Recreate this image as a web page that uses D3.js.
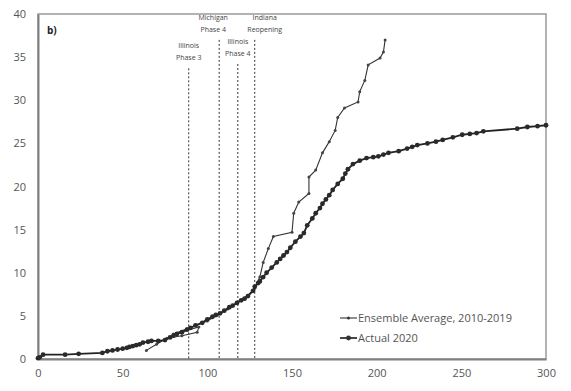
<!DOCTYPE html>
<html>
<head>
<meta charset="utf-8">
<script src="https://cdn.jsdelivr.net/npm/d3@7"></script>
<style>
  body { margin: 0; background: #fff; }
  svg text { font-family: "Open Sans", "Liberation Sans", sans-serif; }
</style>
</head>
<body>
<div id="chart"></div>
<script>
// --- Data ---
const xTicks = [0, 50, 100, 150, 200, 250, 300];
const yTicks = [0, 5, 10, 15, 20, 25, 30, 35, 40];

// Ensemble Average, 2010-2019 : [x, y]
const ensemble = [
  [64, 1.0], [70, 1.7], [76, 2.4], [85, 2.7], [94, 3.1], [95, 3.7], [80, 2.9], [88, 3.5],
  [100, 4.4], [106, 5.1], [112, 5.8], [118, 6.6], [124, 7.4], [128, 8.2], [131, 9.5],
  [133, 11.2], [136, 12.8], [139, 14.2], [150, 14.7], [151, 16.9], [154, 18.2],
  [160, 19.2], [160, 21.1], [164, 21.9], [168, 23.9], [172, 25.2], [175.5, 26.5],
  [177, 28.0], [181, 29.1], [189, 29.8], [190, 31.0], [193, 32.3], [195, 34.1],
  [202, 34.9], [204, 35.6], [205, 37.0]
];

// Actual 2020 : [x, y]
const actual = [
  [0, 0.1], [1, 0.2], [3, 0.5], [16, 0.5], [24, 0.6], [38, 0.7], [41, 0.9], [44, 1.0],
  [47, 1.1], [50, 1.2], [52.5, 1.3], [54, 1.4], [56, 1.5], [58, 1.6], [60, 1.7], [62, 1.9],
  [65, 2.0], [67, 2.1], [71, 2.1], [75, 2.2], [78, 2.5], [80, 2.7], [82, 2.9], [85, 3.1],
  [88, 3.4], [90, 3.6], [93, 3.9], [97, 4.2], [100, 4.6], [103, 4.9], [105, 5.1], [107.5, 5.3],
  [110, 5.6], [113, 6.0], [115, 6.2], [117.5, 6.5], [120, 6.8], [122, 7.0], [124, 7.3],
  [127, 7.9], [128, 8.4], [130, 8.8], [131, 9.0], [133, 9.5], [135, 10.0], [138, 10.6],
  [141, 11.2], [143, 11.6], [145, 12.0], [147, 12.4], [149, 12.9], [152, 13.6], [155, 14.2],
  [157, 14.6], [159, 15.5], [162, 16.3], [164, 16.9], [166.5, 17.5], [168, 18.0], [170, 18.5],
  [172, 19.0], [174, 19.6], [177, 20.3], [180, 20.9], [181.5, 21.5], [183, 22.0], [186, 22.6],
  [190, 23.0], [194, 23.3], [198, 23.4], [201, 23.5], [204, 23.7], [207, 23.9], [213, 24.1],
  [218, 24.4], [221, 24.6], [224, 24.8], [230, 25.0], [235, 25.2], [239, 25.4], [245, 25.7],
  [250.5, 26.0], [255, 26.1], [259, 26.2], [263, 26.4], [283, 26.7], [289, 26.9],
  [295, 27.0], [300, 27.1]
];

// Event markers
const events = [
  { x: 89,  top: 33.7, lines: ["Illinois", "Phase 3"] },
  { x: 107, top: 37.0, lines: ["Michigan", "Phase 4"] },
  { x: 118, top: 34.2, lines: ["Illinois", "Phase 4"] },
  { x: 128, top: 37.0, lines: ["Indiana", "Reopening"] }
];

const seriesNames = ["Ensemble Average, 2010-2019", "Actual 2020"];

// --- Layout ---
const W = 571, H = 391;
const margin = { left: 38, right: 25, top: 14, bottom: 32 };

const svg = d3.select("#chart").append("svg")
  .attr("width", W).attr("height", H);

const x = d3.scaleLinear().domain([0, 300]).range([margin.left, W - margin.right]);
const y = d3.scaleLinear().domain([0, 40]).range([H - margin.bottom, margin.top]);

// frame
svg.append("rect")
  .attr("x", x(0)).attr("y", y(40))
  .attr("width", x(300) - x(0)).attr("height", y(0) - y(40))
  .attr("fill", "none").attr("stroke", "#9a9a9a").attr("stroke-width", 1.5);

// axes (labels only, no tick marks)
const xAxis = svg.append("g")
  .attr("transform", `translate(0,${y(0)})`)
  .call(d3.axisBottom(x).tickValues(xTicks).tickSize(0).tickPadding(10));
const yAxis = svg.append("g")
  .attr("transform", `translate(${x(0)},0)`)
  .call(d3.axisLeft(y).tickValues(yTicks).tickSize(0).tickPadding(12));
[xAxis, yAxis].forEach(g => {
  g.select(".domain").attr("stroke", "#808080").attr("stroke-width", 2);
  g.selectAll("text").attr("fill", "#555").style("font-size", "11px");
});

// event lines
events.forEach(ev => {
  svg.append("line")
    .attr("x1", x(ev.x)).attr("x2", x(ev.x))
    .attr("y1", y(ev.top)).attr("y2", y(0))
    .attr("stroke", "#333").attr("stroke-width", 1)
    .attr("stroke-dasharray", "2,2");
  const t = svg.append("text")
    .attr("x", x(ev.x) - (ev.x === 107 ? 6 : ev.x === 128 ? -10 : 0))
    .attr("y", y(ev.top) - 20)
    .attr("text-anchor", "middle")
    .attr("fill", "#444")
    .style("font-size", "7px");
  ev.lines.forEach((s, i) => {
    t.append("tspan").attr("x", t.attr("x")).attr("dy", i ? 12 : 0).text(s);
  });
});

svg.append("text")
  .attr("x", 47).attr("y", 34)
  .attr("fill", "#222").style("font-size", "10px").style("font-weight", "bold")
  .text("b)");

const line = d3.line().x(d => x(d[0])).y(d => y(d[1]));

// ensemble
svg.append("path").datum(ensemble)
  .attr("d", line).attr("fill", "none")
  .attr("stroke", "#333").attr("stroke-width", 1.1);
svg.selectAll(".ens").data(ensemble).enter().append("circle")
  .attr("cx", d => x(d[0])).attr("cy", d => y(d[1])).attr("r", 1.5)
  .attr("fill", "#444");

// actual
svg.append("path").datum(actual)
  .attr("d", line).attr("fill", "none")
  .attr("stroke", "#222").attr("stroke-width", 1.8);
svg.selectAll(".act").data(actual).enter().append("circle")
  .attr("cx", d => x(d[0])).attr("cy", d => y(d[1])).attr("r", 2.4)
  .attr("fill", "#2a2a2a");

// legend
const legend = svg.append("g");
seriesNames.forEach((name, i) => {
  const ly = 318 + i * 20;
  legend.append("line")
    .attr("x1", 340).attr("x2", 357).attr("y1", ly).attr("y2", ly)
    .attr("stroke", "#333").attr("stroke-width", i ? 1.8 : 1.1);
  legend.append("circle").attr("cx", 348.5).attr("cy", ly).attr("r", i ? 2.4 : 1.5)
    .attr("fill", "#333");
  legend.append("text")
    .attr("x", 358).attr("y", ly + 4)
    .attr("fill", "#555").style("font-size", "11px")
    .text(name);
});
</script>
</body>
</html>
